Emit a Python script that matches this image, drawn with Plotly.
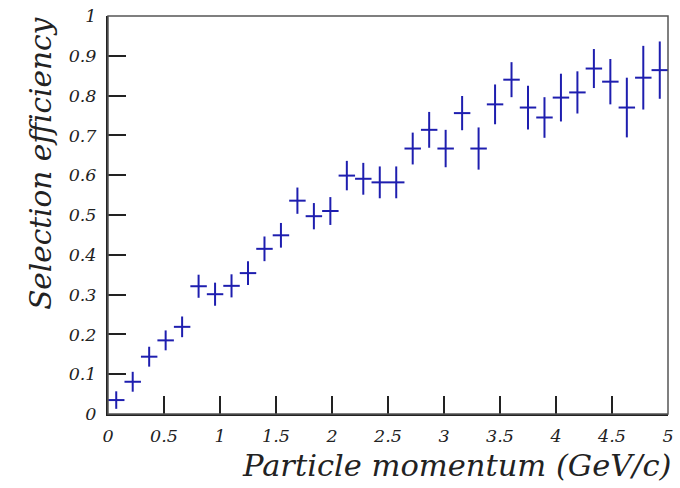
import plotly.graph_objects as go

# Bin centres (GeV/c), 34 bins between 0 and 5
momentum = [0.0735, 0.2206, 0.3676, 0.5147, 0.6618, 0.8088, 0.9559, 1.1029,
            1.2500, 1.3971, 1.5441, 1.6912, 1.8382, 1.9853, 2.1324, 2.2794,
            2.4265, 2.5735, 2.7206, 2.8676, 3.0147, 3.1618, 3.3088, 3.4559,
            3.6029, 3.7500, 3.8971, 4.0441, 4.1912, 4.3382, 4.4853, 4.6324,
            4.7794, 4.9265]
half_bin = [0.0735] * len(momentum)

efficiency = [0.035, 0.081, 0.144, 0.185, 0.219, 0.321, 0.301, 0.322,
              0.354, 0.415, 0.449, 0.536, 0.497, 0.510, 0.599, 0.591,
              0.582, 0.582, 0.667, 0.714, 0.667, 0.756, 0.667, 0.778,
              0.840, 0.770, 0.745, 0.795, 0.808, 0.868, 0.835, 0.770,
              0.845, 0.864]
eff_err = [0.022, 0.025, 0.025, 0.025, 0.026, 0.029, 0.029, 0.029,
           0.030, 0.031, 0.031, 0.033, 0.033, 0.035, 0.037, 0.040,
           0.040, 0.040, 0.040, 0.045, 0.047, 0.043, 0.053, 0.050,
           0.044, 0.055, 0.051, 0.060, 0.053, 0.049, 0.057, 0.075,
           0.080, 0.072]

x_ticks = [0, 0.5, 1, 1.5, 2, 2.5, 3, 3.5, 4, 4.5, 5]
x_tick_text = ["0", "0.5", "1", "1.5", "2", "2.5", "3", "3.5", "4", "4.5", "5"]
y_ticks = [0, 0.1, 0.2, 0.3, 0.4, 0.5, 0.6, 0.7, 0.8, 0.9, 1]
y_tick_text = ["0", "0.1", "0.2", "0.3", "0.4", "0.5", "0.6", "0.7", "0.8", "0.9", "1"]

BLUE = "rgb(30,30,175)"
SERIF = "DejaVu Serif"

fig = go.Figure()
fig.add_trace(go.Scatter(
    x=momentum, y=efficiency, mode="markers",
    marker=dict(size=1, color=BLUE, opacity=0),
    error_x=dict(type="data", array=half_bin, color=BLUE, thickness=2, width=0),
    error_y=dict(type="data", array=eff_err, color=BLUE, thickness=2, width=0),
    showlegend=False,
))

tickfont = dict(family=SERIF, size=17.5, color="#222", style="italic")

fig.update_layout(
    width=680, height=488,
    margin=dict(l=108, r=6, t=15, b=74),
    paper_bgcolor="white", plot_bgcolor="white",
    xaxis=dict(range=[0, 5], tickvals=x_ticks, ticktext=x_tick_text,
               ticks="inside", ticklen=18, tickwidth=2, tickcolor="#222",
               showline=True, linewidth=2, linecolor="#222",
               showgrid=False, zeroline=False, tickfont=tickfont,
               ticklabelstandoff=5),
    yaxis=dict(range=[0, 1], tickvals=y_ticks, ticktext=y_tick_text,
               ticks="inside", ticklen=18, tickwidth=2, tickcolor="#222",
               showline=True, linewidth=2, linecolor="#222",
               showgrid=False, zeroline=False, tickfont=tickfont,
               ticklabelstandoff=6),
    shapes=[dict(type="rect", xref="paper", yref="paper", x0=0, x1=1, y0=0, y1=1,
                 line=dict(color="#555", width=1.5))],
    annotations=[
        dict(text="Particle momentum (GeV/c)", xref="paper", yref="paper",
             x=1.011, y=-0.08, xanchor="right", yanchor="top", showarrow=False,
             font=dict(family=SERIF, size=30.5, color="#222", style="italic")),
        dict(text="Selection efficiency", xref="paper", yref="paper",
             x=-0.086, y=1.0, xanchor="right", yanchor="top", textangle=-90,
             showarrow=False,
             font=dict(family=SERIF, size=29.5, color="#222", style="italic")),
    ],
)

fig.write_html("out.html")
